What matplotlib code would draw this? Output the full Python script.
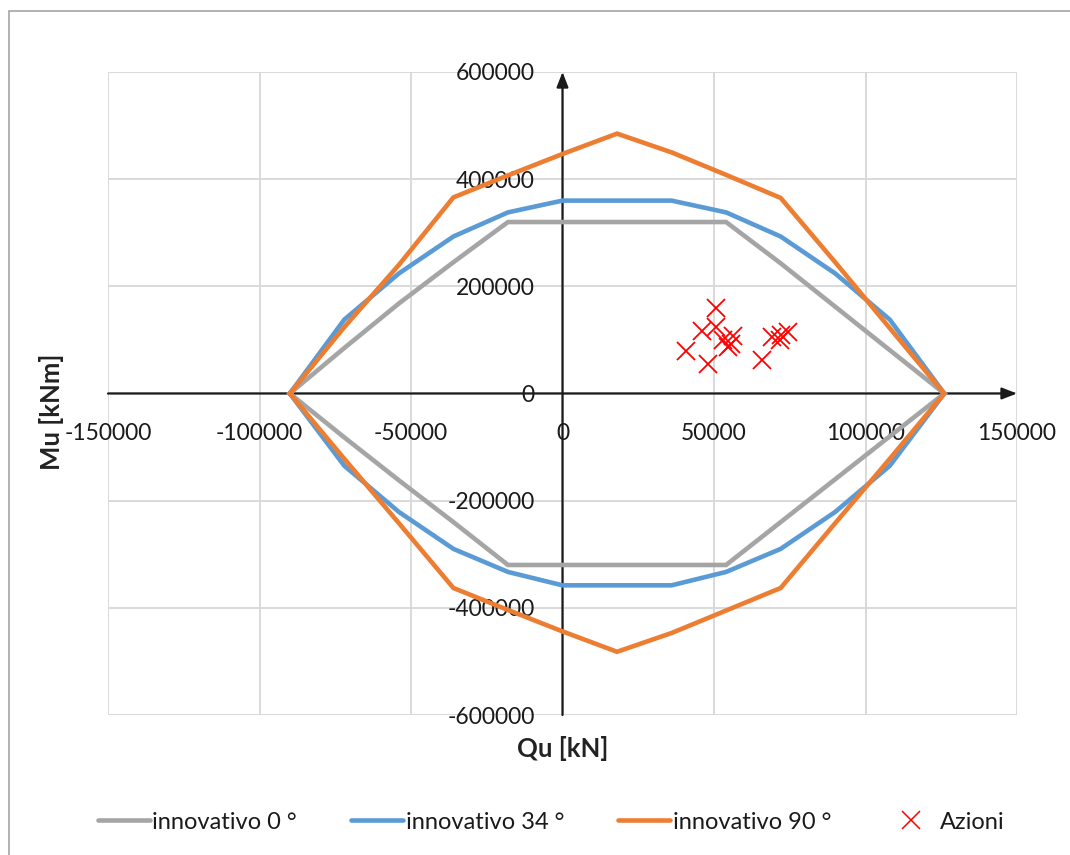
import matplotlib.pyplot as plt
from matplotlib.lines import Line2D
from matplotlib.patches import Rectangle

plt.rcParams['font.family'] = ['Lato', 'DejaVu Sans']
plt.rcParams['axes.unicode_minus'] = False

# Qu [kN] positions of the domain vertices
qu = [-90000, -72000, -54000, -36000, -18000, 0, 18000, 36000, 54000, 72000, 90000, 108000, 126000]

# innovativo 0 deg
mu0_top = [0, 85000, 168000, 245000, 320000, 320000, 320000, 320000, 320000, 243000, 162000, 81000, 0]
mu0_bot = [0, -82000, -162000, -240000, -320000, -320000, -320000, -320000, -320000, -240000, -160000, -80000, 0]

# innovativo 34 deg
mu34_top = [0, 138000, 224000, 293000, 338000, 360000, 360000, 360000, 338000, 293000, 224000, 138000, 0]
mu34_bot = [0, -135000, -221000, -290000, -333000, -358000, -358000, -358000, -333000, -290000, -221000, -135000, 0]

# innovativo 90 deg
mu90_top = [0, 124000, 240000, 366000, 407000, 447000, 485000, 450000, 408000, 365000, 245000, 122000, 0]
mu90_bot = [0, -122000, -242000, -363000, -404000, -444000, -482000, -447000, -405000, -363000, -242000, -122000, 0]

# Azioni (design actions)
az_q = [50700, 46100, 50700, 40600, 48000, 52900, 55600, 56200, 54600, 65900, 69200, 71900, 74400, 72200]
az_m = [159000, 117000, 124000, 80000, 55000, 99000, 92500, 108000, 86000, 63000, 105000, 99000, 114000, 109000]

series = [
    ('innovativo 0 °', mu0_top, mu0_bot, '#A5A5A5'),
    ('innovativo 34 °', mu34_top, mu34_bot, '#5B9BD5'),
    ('innovativo 90 °', mu90_top, mu90_bot, '#ED7D31'),
]

fig = plt.figure(figsize=(10.7, 8.55), dpi=100)
ax = fig.add_axes([108 / 1070, 1 - 715 / 855, (1017 - 108) / 1070, (715 - 72) / 855])

handles = []
for label, top, bot, col in series:
    xs = qu + qu[::-1]
    ys = top + bot[::-1]
    ax.plot(xs, ys, color=col, lw=3.3, solid_joinstyle='miter', zorder=3)
    handles.append(Line2D([], [], color=col, lw=3.3, solid_capstyle='round', label=label))

ax.plot(az_q, az_m, linestyle='none', marker='x', color='#FF0000', ms=13, mew=1.3, zorder=4)
handles.append(Line2D([], [], linestyle='none', marker='x', color='#FF0000', ms=13, mew=1.1, label='Azioni'))

ax.set_xlim(-150000, 150000)
ax.set_ylim(-600000, 600000)
ax.set_xticks(range(-150000, 150001, 50000))
ax.set_yticks(range(-600000, 600001, 200000))
ax.grid(True, color='#D9D9D9', lw=1.4, zorder=0)
ax.set_axisbelow(True)

for s in ['top', 'right']:
    ax.spines[s].set_visible(False)
ax.spines['left'].set_position(('data', 0))
ax.spines['bottom'].set_position(('data', 0))
ax.spines['left'].set_visible(False)
ax.spines['bottom'].set_visible(False)
ax.tick_params(length=0, labelsize=16.5, colors='#1a1a1a')
ax.tick_params(axis='y', pad=20)
ax.tick_params(axis='x', pad=21)

# axes through the origin with arrow heads
arrow = dict(arrowstyle='-|>,head_length=0.9,head_width=0.35', color='#1a1a1a', lw=1.6, shrinkA=0, shrinkB=0)
ax.annotate('', xy=(0, 600000), xytext=(0, -600000), arrowprops=arrow, zorder=2)
ax.annotate('', xy=(150000, 0), xytext=(-150000, 0), arrowprops=arrow, zorder=2)

fig.text(52 / 1070, 1 - 412 / 855, 'Mu [kNm]', rotation=90, ha='center', va='center',
         fontsize=18.5, fontweight='bold', color='#222222')
fig.text(563 / 1070, 1 - 748 / 855, 'Qu [kN]', ha='center', va='center',
         fontsize=18.5, fontweight='bold', color='#222222')

fig.legend(handles=handles, loc='center', bbox_to_anchor=(0.515, 1 - 822 / 855), ncol=4,
           frameon=False, fontsize=17, handlelength=2.2, handletextpad=0.1,
           columnspacing=2.3, labelcolor='#1a1a1a')

# outer chart border
fig.patches.append(Rectangle((9 / 1070, -0.05), 1.1, 1 - 11 / 855 + 0.05, transform=fig.transFigure,
                             fill=False, edgecolor='#A6A6A6', lw=1.2))

plt.savefig('out.png', dpi=100)
